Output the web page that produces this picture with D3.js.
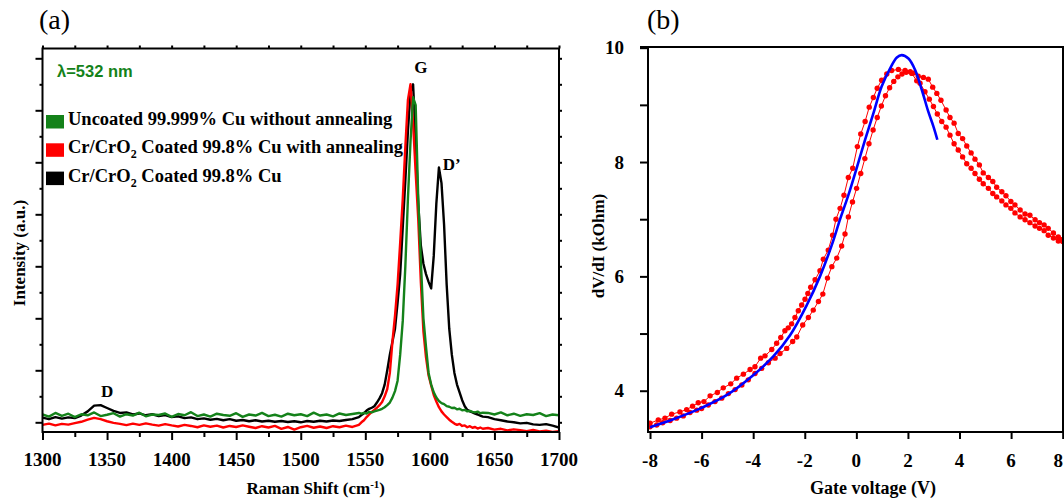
<!DOCTYPE html>
<html>
<head>
<meta charset="utf-8">
<script src="https://cdn.jsdelivr.net/npm/d3@7"></script>
<style>
  body { margin: 0; background: #fff; }
  svg { display: block; }
  .serif { font-family: "Liberation Serif", "Times New Roman", serif; font-weight: bold; }
</style>
</head>
<body>
<div id="container"></div>
<script>
/* DATA */
// panel (a): Raman spectra, wavenumber grid shared by the three spectra
const ramanShift = [
  1300,1305,1310,1315,1320,1325,1330,1335,1340,1345,1350,1355,1360,1365,1370,1375,1380,1385,1390,1395,
  1400,1405,1410,1415,1420,1425,1430,1435,1440,1445,1450,1455,1460,1465,1470,1475,1480,1485,1490,1495,
  1500,1505,1510,1515,1520,1525,1530,1535,1540,1545,
  1547,1549,1551,1553,1555,1557,1559,1561,1563,1565,1567,1569,1571,1573,1575,1577,1579,1581,1583,1585,
  1587,1589,1591,1593,1595,1597,1599,1601,1603,1605,1607,1609,1611,1613,1615,1617,1619,1621,1623,1625,
  1627,1629,1631,1633,1635,1637,1639,1641,
  1645,1650,1655,1660,1665,1670,1675,1680,1685,1690,1695,1700
];
// Uncoated 99.999% Cu without annealing (green)
const uncoated = [
  0.30,0.22,0.36,0.25,0.33,0.20,0.31,0.27,0.38,0.24,0.29,0.35,0.22,0.31,0.26,0.37,0.23,0.30,0.28,0.34,
  0.21,0.32,0.27,0.39,0.24,0.30,0.22,0.33,0.28,0.25,0.35,0.21,0.30,0.26,0.36,0.24,0.29,0.22,0.33,0.27,
  0.31,0.24,0.37,0.26,0.30,0.23,0.34,0.28,0.32,0.36,
  0.33,0.36,0.34,0.40,0.38,0.42,0.45,0.48,0.52,0.58,0.66,0.76,0.95,1.20,1.60,2.60,3.90,6.00,8.60,10.8,
  12.5,12.2,8.60,6.20,4.00,2.90,1.90,1.45,1.15,0.95,0.82,0.74,0.70,0.62,0.60,0.55,0.56,0.50,0.52,0.46,
  0.48,0.42,0.44,0.40,0.38,0.41,0.35,0.37,
  0.36,0.30,0.38,0.27,0.33,0.25,0.31,0.28,0.35,0.24,0.30,0.27
];
// Cr/CrO2 coated 99.8% Cu with annealing (red)
const annealed = [
  -0.10,-0.05,-0.12,-0.06,-0.09,-0.03,0.02,0.10,0.17,0.12,0.04,-0.02,-0.06,-0.11,-0.05,-0.10,-0.04,-0.09,-0.13,-0.07,
  -0.12,-0.16,-0.10,-0.14,-0.19,-0.12,-0.17,-0.13,-0.20,-0.14,-0.18,-0.12,-0.17,-0.22,-0.15,-0.20,-0.14,-0.25,-0.18,-0.28,
  -0.19,-0.14,-0.21,-0.16,-0.22,-0.15,-0.19,-0.13,-0.18,-0.10,
  0.00,0.08,0.20,0.30,0.40,0.48,0.56,0.66,0.78,1.00,1.28,1.90,3.10,4.10,5.30,6.90,8.60,10.6,12.4,13.0,
  11.5,9.60,7.80,5.40,3.50,2.50,1.80,1.42,1.05,0.80,0.58,0.42,0.30,0.20,0.10,0.02,-0.05,-0.10,-0.06,-0.14,
  -0.12,-0.19,-0.15,-0.21,-0.18,-0.24,-0.20,-0.25,
  -0.22,-0.28,-0.25,-0.31,-0.27,-0.30,-0.34,-0.29,-0.35,-0.32,-0.37,-0.34
];
// Cr/CrO2 coated 99.8% Cu (black)
const coated = [
  0.18,0.12,0.20,0.14,0.19,0.16,0.26,0.42,0.64,0.66,0.55,0.44,0.36,0.38,0.30,0.34,0.27,0.31,0.24,0.28,
  0.20,0.23,0.16,0.19,0.12,0.15,0.10,0.13,0.08,0.12,0.06,0.09,0.04,0.08,0.03,0.06,0.02,0.05,0.01,0.04,
  0.00,0.05,0.02,0.06,0.03,0.07,0.05,0.09,0.12,0.20,
  0.28,0.35,0.45,0.52,0.56,0.62,0.76,0.92,1.12,1.45,2.00,2.60,3.10,3.60,4.60,5.70,7.50,9.30,11.2,12.7,
  13.0,10.8,8.40,6.80,6.10,5.70,5.40,5.15,6.40,8.40,9.80,9.20,7.60,5.30,3.60,2.60,1.90,1.45,1.15,0.85,
  0.62,0.48,0.42,0.38,0.33,0.30,0.26,0.22,
  0.20,0.12,0.08,0.03,0.00,-0.04,-0.02,-0.08,-0.10,-0.07,-0.13,-0.20
];
const seriesNames = [
  "Uncoated 99.999% Cu without annealing",
  "Cr/CrO2 Coated 99.8% Cu with annealing",
  "Cr/CrO2 Coated 99.8% Cu"
];
const seriesColors = ["#14821a", "#ff0000", "#000000"];
const peakNames = ["D", "G", "D\u2019"];
const peakShift = [1350, 1593, 1610];
const peakLevel = [0.97, 13.43, 9.7];
const shiftTicks = [1300, 1350, 1400, 1450, 1500, 1550, 1600, 1650, 1700];

// panel (b): dV/dI vs gate voltage, two sweeps and a fit
const sweepAVoltage = [
  -8.00,-7.68,-7.42,-7.16,-6.84,-6.58,-6.35,-6.13,-5.91,-5.67,-5.39,-5.16,-4.87,-4.64,-4.38,-4.12,-3.93,-3.71,-3.54,-3.28,
  -3.09,-2.93,-2.77,-2.64,-2.51,-2.38,-2.25,-2.12,-1.99,-1.88,-1.77,-1.60,-1.41,-1.28,-1.09,-0.92,-0.79,-0.63,-0.48,-0.31,
  -0.14,0.04,0.17,0.34,0.50,0.66,0.81,0.98,1.18,1.37,1.63,1.89,2.15,2.34,2.47,2.66,2.83,2.99,3.14,3.31,
  3.48,3.63,3.79,3.95,4.12,4.28,4.45,4.60,4.77,4.92,5.12,5.29,5.44,5.64,5.80,5.99,6.15,6.35,6.54,6.73,
  6.93,7.10,7.28,7.44,7.64,7.83,8.00
];
const sweepAResistance = [
  3.43,3.49,3.52,3.59,3.63,3.67,3.73,3.79,3.81,3.91,3.97,4.05,4.12,4.22,4.29,4.37,4.42,4.57,4.61,4.72,
  4.83,4.93,5.05,5.10,5.17,5.28,5.40,5.50,5.60,5.70,5.81,5.94,6.10,6.30,6.46,6.72,7.00,7.19,7.42,7.73,
  7.89,8.27,8.49,8.71,8.96,9.13,9.29,9.43,9.54,9.60,9.62,9.60,9.55,9.42,9.38,9.23,9.10,8.97,8.84,8.71,
  8.61,8.47,8.32,8.21,8.09,7.97,7.89,7.80,7.70,7.62,7.54,7.45,7.39,7.32,7.25,7.19,7.11,7.04,6.99,6.94,
  6.88,6.84,6.80,6.72,6.67,6.62,6.61
];
const sweepBVoltage = [
  -8.00,-7.74,-7.51,-7.22,-6.97,-6.71,-6.45,-6.19,-6.00,-5.74,-5.48,-5.22,-4.96,-4.70,-4.44,-4.19,-3.93,-3.67,-3.41,-3.15,
  -2.96,-2.70,-2.47,-2.31,-2.08,-1.86,-1.67,-1.47,-1.30,-1.12,-0.95,-0.76,-0.57,-0.44,-0.31,-0.15,0.01,0.17,0.33,0.49,
  0.65,0.81,0.97,1.13,1.29,1.45,1.61,1.77,1.93,2.09,2.25,2.40,2.60,2.79,2.96,3.12,3.28,3.48,3.63,3.79,
  3.95,4.12,4.28,4.45,4.60,4.77,4.92,5.12,5.29,5.44,5.64,5.80,5.99,6.15,6.35,6.54,6.73,6.93,7.10,7.28,
  7.44,7.64,7.83,7.96
];
const sweepBResistance = [
  3.37,3.40,3.44,3.48,3.52,3.56,3.62,3.66,3.69,3.75,3.81,3.87,3.95,4.02,4.10,4.19,4.30,4.39,4.49,4.57,
  4.65,4.74,4.86,4.94,5.15,5.28,5.41,5.56,5.69,5.97,6.17,6.32,6.53,6.74,7.04,7.30,7.54,7.80,8.06,8.32,
  8.56,8.78,8.98,9.16,9.30,9.41,9.49,9.54,9.57,9.58,9.56,9.50,9.48,9.45,9.31,9.20,9.08,8.91,8.78,8.68,
  8.50,8.41,8.28,8.16,8.05,7.95,7.81,7.73,7.66,7.56,7.48,7.41,7.31,7.25,7.16,7.09,7.07,6.99,6.94,6.90,
  6.84,6.76,6.69,6.64
];
const fitVoltage = [-8.0,-7.1,-6.0,-5.0,-4.0,-3.22,-2.57,-1.92,-1.41,-0.95,-0.63,-0.31,0.01,0.34,0.66,0.98,1.31,1.57,1.76,2.02,2.28,2.54,2.79,2.99,3.14];
const fitResistance = [3.36,3.50,3.70,3.93,4.27,4.60,4.97,5.50,6.00,6.55,7.00,7.42,7.89,8.39,8.85,9.32,9.64,9.83,9.87,9.81,9.61,9.26,8.88,8.62,8.39];
const gateTicks = [-8, -6, -4, -2, 0, 2, 4, 6, 8];
const resistanceTicks = [4, 6, 8, 10];

/* CONSTANTS */
const width = 1064, height = 501;
const frameA = {left: 42.5, right: 559, top: 48.5, bottom: 432};
const frameB = {left: 648, right: 1063, top: 47, bottom: 432};

const svg = d3.select("#container")
  .append("svg")
  .attr("width", width)
  .attr("height", height);

const defs = svg.append("defs");
[["clipA", frameA], ["clipB", frameB]].forEach(([id, f]) => {
  defs.append("clipPath").attr("id", id)
    .append("rect")
    .attr("x", f.left).attr("y", f.top)
    .attr("width", f.right - f.left).attr("height", f.bottom - f.top);
});

// ticks only from the d3 axes, labels are drawn as own text below
function styleAxis(g) {
  g.select(".domain").remove();
  g.selectAll(".tick line").attr("stroke", "#000").attr("stroke-width", 2);
  g.selectAll(".tick text").remove();
}

/* PANEL (a) */
const xA = d3.scaleLinear().domain([1300, 1700]).range([frameA.left, frameA.right]);
const yA = d3.scaleLinear().domain([-0.373, 14.377]).range([frameA.bottom, frameA.top]);

svg.append("g")
  .attr("transform", `translate(0,${frameA.bottom})`)
  .call(d3.axisBottom(xA).tickValues(d3.range(1325, 1700, 50)).tickSize(5))
  .call(styleAxis);
svg.append("g")
  .attr("transform", `translate(0,${frameA.bottom})`)
  .call(d3.axisBottom(xA).tickValues(shiftTicks).tickSize(8))
  .call(styleAxis);
svg.append("g")
  .attr("transform", `translate(0,${frameA.top})`)
  .call(d3.axisTop(xA).tickValues(d3.range(1300, 1701, 25)).tickSize(3))
  .call(styleAxis);
svg.append("g")
  .attr("transform", `translate(${frameA.left},0)`)
  .call(d3.axisLeft(yA).tickValues(d3.range(1, 14, 2)).tickSize(3))
  .call(styleAxis);
svg.append("g")
  .attr("transform", `translate(${frameA.left},0)`)
  .call(d3.axisLeft(yA).tickValues(d3.range(0, 15, 2)).tickSize(7))
  .call(styleAxis);
svg.append("g")
  .attr("transform", `translate(${frameA.right},0)`)
  .call(d3.axisRight(yA).tickValues(d3.range(0, 15, 1)).tickSize(3))
  .call(styleAxis);

svg.append("g")
  .selectAll("text")
  .data(shiftTicks)
  .join("text")
  .attr("class", "serif")
  .attr("x", d => xA(d))
  .attr("y", 466)
  .attr("text-anchor", "middle")
  .style("font-size", "19px")
  .text(d => d);

// spectra
const spectra = [coated, annealed, uncoated];
const spectraColors = [seriesColors[2], seriesColors[1], seriesColors[0]];
const lineA = d3.line().x(d => xA(d[0])).y(d => yA(d[1]));
svg.append("g").attr("clip-path", "url(#clipA)")
  .selectAll("path")
  .data(spectra)
  .join("path")
  .attr("d", s => lineA(d3.zip(ramanShift, s)))
  .attr("fill", "none")
  .attr("stroke", (s, i) => spectraColors[i])
  .attr("stroke-width", 2.4)
  .attr("stroke-linejoin", "round");

// frame
svg.append("rect")
  .attr("x", frameA.left).attr("y", frameA.top)
  .attr("width", frameA.right - frameA.left).attr("height", frameA.bottom - frameA.top)
  .attr("fill", "none").attr("stroke", "#000").attr("stroke-width", 2);

// peak labels
svg.selectAll("text.peak")
  .data(peakNames)
  .join("text")
  .attr("class", "peak serif")
  .attr("x", (d, i) => xA(peakShift[i]))
  .attr("y", (d, i) => yA(peakLevel[i]))
  .attr("text-anchor", (d, i) => i === 2 ? "start" : "middle")
  .style("font-size", "17px")
  .text(d => d);

// wavelength note
svg.append("text")
  .attr("x", 57).attr("y", 77)
  .attr("fill", seriesColors[0])
  .style("font-family", "Liberation Sans, Arial, sans-serif")
  .style("font-weight", "bold")
  .style("font-size", "16.5px")
  .text("\u03bb=532 nm");

// legend
const legend = svg.append("g");
seriesNames.forEach((name, i) => {
  const yTop = 115 + i * 28.3;
  legend.append("rect")
    .attr("x", 46).attr("y", yTop)
    .attr("width", 18).attr("height", 13.5)
    .attr("fill", seriesColors[i]);
  const t = legend.append("text")
    .attr("class", "serif")
    .attr("x", 68).attr("y", yTop + 10)
    .style("font-size", "18.5px");
  if (name.startsWith("Cr/CrO2")) {
    t.append("tspan").text("Cr/CrO");
    t.append("tspan").attr("dy", 5).style("font-size", "12px").text("2");
    t.append("tspan").attr("dy", -5).text(name.slice(7));
  } else {
    t.text(name);
  }
});

// axis titles
svg.append("text")
  .attr("class", "serif")
  .attr("text-anchor", "middle")
  .attr("x", (frameA.left + frameA.right) / 2 + 15).attr("y", 494)
  .style("font-size", "17px")
  .call(t => {
    t.append("tspan").text("Raman Shift (cm");
    t.append("tspan").attr("dy", -6).style("font-size", "11px").text("-1");
    t.append("tspan").attr("dy", 6).text(")");
  });
svg.append("text")
  .attr("class", "serif")
  .attr("text-anchor", "middle")
  .attr("transform", "translate(25,253) rotate(-90)")
  .style("font-size", "17px")
  .text("Intensity (a.u.)");

svg.append("text")
  .attr("x", 39).attr("y", 29)
  .style("font-family", "Liberation Serif, Times New Roman, serif")
  .style("font-size", "28px")
  .text("(a)");

/* PANEL (b) */
const xB = d3.scaleLinear().domain([-8.078, 8.012]).range([frameB.left, frameB.right]);
const yB = d3.scaleLinear().domain([3.278, 10.012]).range([frameB.bottom, frameB.top]);

svg.append("g")
  .attr("transform", `translate(0,${frameB.bottom})`)
  .call(d3.axisBottom(xB).tickValues(gateTicks).tickSize(7))
  .call(styleAxis);
svg.append("g")
  .attr("transform", `translate(${frameB.left},0)`)
  .call(d3.axisLeft(yB).tickValues(d3.range(4, 11, 1)).tickSize(8))
  .call(styleAxis);

// last gate label is kept inside the picture edge
svg.append("g")
  .selectAll("text")
  .data(gateTicks)
  .join("text")
  .attr("class", "serif")
  .attr("x", d => d === 8 ? width - 1 : xB(d))
  .attr("y", 467)
  .attr("text-anchor", d => d === 8 ? "end" : "middle")
  .style("font-size", "19px")
  .text(d => d);
svg.append("g")
  .selectAll("text")
  .data(resistanceTicks)
  .join("text")
  .attr("class", "serif")
  .attr("x", 624)
  .attr("y", d => yB(d) + 6.5)
  .attr("text-anchor", "end")
  .style("font-size", "19px")
  .text(d => d);

const lineB = d3.line().x(d => xB(d[0])).y(d => yB(d[1]));
const sweeps = [d3.zip(sweepAVoltage, sweepAResistance), d3.zip(sweepBVoltage, sweepBResistance)];
const plotB = svg.append("g").attr("clip-path", "url(#clipB)");
plotB.selectAll("path.sweep")
  .data(sweeps)
  .join("path")
  .attr("class", "sweep")
  .attr("d", lineB)
  .attr("fill", "none")
  .attr("stroke", "#ff0000")
  .attr("stroke-width", 1);
plotB.selectAll("circle")
  .data(sweeps.flat())
  .join("circle")
  .attr("cx", d => xB(d[0]))
  .attr("cy", d => yB(d[1]))
  .attr("r", 2.7)
  .attr("fill", "#ff0000");
plotB.append("path")
  .attr("d", d3.line().x(d => xB(d[0])).y(d => yB(d[1])).curve(d3.curveCatmullRom)(d3.zip(fitVoltage, fitResistance)))
  .attr("fill", "none")
  .attr("stroke", "#0000ff")
  .attr("stroke-width", 2.6);

// frame: left, bottom, right, top (top extends over the tick)
svg.append("path")
  .attr("d", `M${frameB.left},${frameB.top}V${frameB.bottom}H${frameB.right}V${frameB.top}H${frameB.left - 8}`)
  .attr("fill", "none").attr("stroke", "#000").attr("stroke-width", 2);

svg.append("text")
  .attr("class", "serif")
  .attr("text-anchor", "middle")
  .attr("x", 873).attr("y", 494)
  .style("font-size", "18px")
  .text("Gate voltage (V)");
svg.append("text")
  .attr("class", "serif")
  .attr("text-anchor", "middle")
  .attr("transform", "translate(604,246) rotate(-90)")
  .style("font-size", "17px")
  .text("dV/dI (kOhm)");

svg.append("text")
  .attr("x", 647).attr("y", 29)
  .style("font-family", "Liberation Serif, Times New Roman, serif")
  .style("font-size", "28px")
  .text("(b)");
</script>
</body>
</html>
